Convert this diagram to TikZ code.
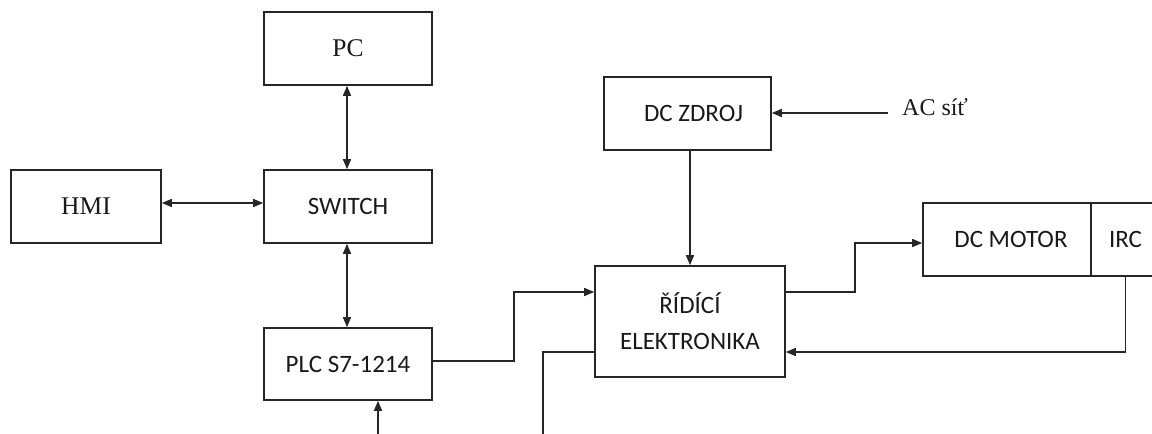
\documentclass[tikz,border=0pt]{standalone}
\usepackage{fontspec}
\setmainfont{Liberation Serif}
\newfontfamily\calfont{Carlito}
\usetikzlibrary{arrows.meta}
\begin{document}
\begin{tikzpicture}[x=1pt,y=-1pt,
  box/.style={draw=black!85, line width=1.6pt, inner sep=0pt, align=center},
  sans/.style={font=\calfont\fontsize{25}{36}\selectfont, text=black!90},
  serif/.style={font=\fontsize{25.5}{30}\selectfont, text=black!90},
  conn/.style={draw=black!85, line width=1.4pt},
  arr/.style={conn, -{Triangle[length=10pt,width=8pt]}},
  biarr/.style={conn, {Triangle[length=10pt,width=8pt]}-{Triangle[length=10pt,width=8pt]}}]
\useasboundingbox (0,0) rectangle (1152,434);
\clip (0,0) rectangle (1152,434);
\node[box, serif, minimum width=168pt, minimum height=73pt] (PC) at (348,48.5) {PC};
\node[box, sans, minimum width=168pt, minimum height=73pt] (SW) at (348,206.5) {SWITCH};
\node[box, serif, minimum width=150pt, minimum height=73pt] (HMI) at (86,206.5) {HMI};
\node[box, sans, minimum width=168pt, minimum height=72pt] (PLC) at (348,364) {PLC S7-1214};
\node[box, sans, minimum width=167pt, minimum height=73pt] (DZ) at (687.5,113.5) {\hspace{12pt}DC ZDROJ};
\node[box, sans, minimum width=190pt, minimum height=111pt] (RE) at (690,321.5) {ŘÍDÍCÍ\\ELEKTRONIKA};
\node[box, sans, minimum width=168pt, minimum height=73pt] (DM) at (1007,239.5) {\hspace{8pt}DC MOTOR};
\node[box, sans, minimum width=69pt, minimum height=73pt] (IRC) at (1125.5,239.5) {IRC};
\node[serif, anchor=west, inner sep=0pt, font=\fontsize{24}{30}\selectfont] (AC) at (902,107) {AC síť};
\coordinate (ac) at (888,113);
\coordinate (xa) at (347,0);
\coordinate (plcin) at (378,440);
\coordinate (reout) at (543,440);
% connectors
\draw[biarr] (PC.south -| xa) -- (SW.north -| xa);
\draw[biarr] ([yshift=3.5pt]HMI.east) -- ([yshift=3.5pt]SW.west);
\draw[biarr] (SW.south -| xa) -- (PLC.north -| xa);
\draw[arr] (plcin) -- (plcin |- PLC.south);
\draw[arr] ([yshift=3pt]PLC.east) -- ++(81,0) |- ([yshift=29.5pt]RE.west);
\draw[conn] ([yshift=-30.5pt]RE.west) -| (reout);
\draw[arr] (DZ.south -| RE.north) -- (RE.north);
\draw[arr] (ac) -- (ac -| DZ.east);
\draw[arr] ([yshift=29.5pt]RE.east) -- ++(69,0) |- ([yshift=-3.5pt]DM.west);
\draw[arr] (IRC.south) |- ([yshift=-30.5pt]RE.east);
\end{tikzpicture}
\end{document}
